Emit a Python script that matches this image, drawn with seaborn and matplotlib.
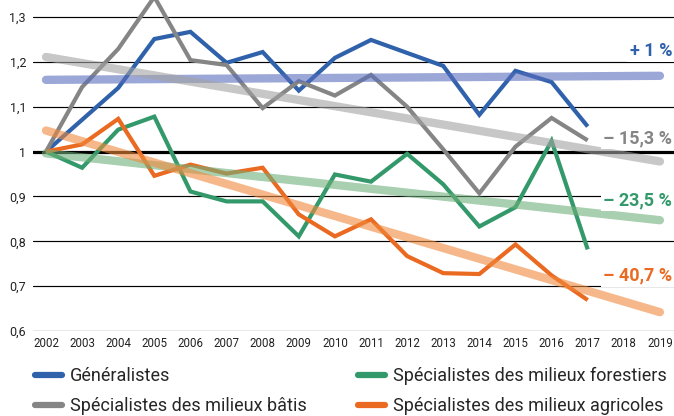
import matplotlib
matplotlib.use("Agg")
import matplotlib.pyplot as plt
import matplotlib.transforms as mtrans
from matplotlib.lines import Line2D
import pandas as pd
import seaborn as sns

# ---------------- data ----------------
years = list(range(2002, 2018))
generalistes = [1.000, 1.071, 1.142, 1.251, 1.267, 1.198, 1.222, 1.136, 1.209,
                1.249, 1.220, 1.191, 1.082, 1.180, 1.155, 1.056]
batis = [1.000, 1.144, 1.229, 1.345, 1.204, 1.193, 1.097, 1.157, 1.125,
         1.171, 1.100, 1.005, 0.907, 1.011, 1.075, 1.025]
forestiers = [1.000, 0.964, 1.049, 1.078, 0.911, 0.889, 0.889, 0.811, 0.949,
              0.933, 0.995, 0.927, 0.833, 0.876, 1.024, 0.782]
agricoles = [1.000, 1.016, 1.073, 0.946, 0.971, 0.951, 0.964, 0.860, 0.811,
             0.849, 0.767, 0.729, 0.727, 0.793, 0.724, 0.669]

trend_years = [2002, 2019]
trend_generalistes = [1.160, 1.169]
trend_batis = [1.211, 0.978]
trend_forestiers = [0.996, 0.847]
trend_agricoles = [1.047, 0.642]

series_names = ["Généralistes", "Spécialistes des milieux bâtis",
                "Spécialistes des milieux forestiers", "Spécialistes des milieux agricoles"]
trend_labels = ["+ 1 %", "– 15,3 %", "– 23,5 %", "– 40,7 %"]
label_y = [1.224, 1.030, 0.892, 0.723]

x_ticks = list(range(2002, 2020))
y_ticks = [0.6, 0.7, 0.8, 0.9, 1.0, 1.1, 1.2, 1.3]
y_ticklabels = ["0,6", "0,7", "0,8", "0,9", "1", "1,1", "1,2", "1,3"]

# ---------------- styles ----------------
line_colors = ["#2f62ab", "#858585", "#34996a", "#eb6a22"]
trend_colors = ["#586cbb", "#a3a3a3", "#6eaf7a", "#f0893c"]

sns.set_theme(style="white")
plt.rcParams["font.family"] = ["Roboto", "DejaVu Sans"]

data_df = pd.concat([
    pd.DataFrame({"year": years, "value": vals, "serie": name})
    for name, vals in zip(series_names, [generalistes, batis, forestiers, agricoles])
])
trend_df = pd.concat([
    pd.DataFrame({"year": trend_years, "value": vals, "serie": name})
    for name, vals in zip(series_names,
                          [trend_generalistes, trend_batis, trend_forestiers, trend_agricoles])
])

fig = plt.figure(figsize=(6.74, 4.16), dpi=100)
ax = fig.add_axes([33 / 674, 1 - 331 / 416, 1 - 33 / 674, 331 / 416])

# grid lines
for yv in y_ticks:
    ax.axhline(yv, color="black", lw=2.3 if yv == 1.0 else 0.85, zorder=1)

sns.lineplot(data=data_df, x="year", y="value", hue="serie",
             palette=dict(zip(series_names, line_colors)), hue_order=series_names,
             linewidth=3.0, legend=False, ax=ax, zorder=3)
for ln in ax.get_lines()[-4:]:
    ln.set_solid_joinstyle("miter")
    ln.set_solid_capstyle("butt")

n_before = len(ax.get_lines())
sns.lineplot(data=trend_df, x="year", y="value", hue="serie",
             palette=dict(zip(series_names, trend_colors)), hue_order=series_names,
             linewidth=6.0, alpha=0.6, legend=False, ax=ax, zorder=4)
for ln in ax.get_lines()[n_before:]:
    ln.set_solid_capstyle("round")

ax.set_xlim(2001.64, 2019.39)
ax.set_ylim(0.6, 1.338)
ax.set_xticks(x_ticks)
ax.set_xticklabels([str(y) for y in x_ticks], fontsize=8.3, color="#222222")
ax.set_yticks(y_ticks)
ax.set_yticklabels(y_ticklabels, fontsize=9, color="#222222")
ax.tick_params(axis="both", length=0, pad=4)
ax.tick_params(axis="y", pad=5)
ax.set_xlabel("")
ax.set_ylabel("")
for s in ax.spines.values():
    s.set_visible(False)
ax.patch.set_alpha(0)

# end labels
trans = mtrans.blended_transform_factory(ax.transAxes, ax.transData)
for txt, yv, col in zip(trend_labels, label_y, line_colors):
    ax.text(0.997, yv, txt, transform=trans, ha="right", va="center",
            fontsize=13, fontweight="bold", color=col, zorder=6,
            bbox=dict(facecolor="white", edgecolor="none", pad=1.5))

# legend
handles = [Line2D([0], [0], color=c, lw=4.5, solid_capstyle="round") for c in line_colors]
fig.legend(handles, series_names, loc="upper left", bbox_to_anchor=(35 / 674, 1 - 367 / 416),
           ncol=2, frameon=False, fontsize=13, handlelength=1.5, handletextpad=0.45,
           columnspacing=2.8, labelspacing=0.68, borderpad=0, borderaxespad=0)

fig.savefig("out.png", dpi=100)
